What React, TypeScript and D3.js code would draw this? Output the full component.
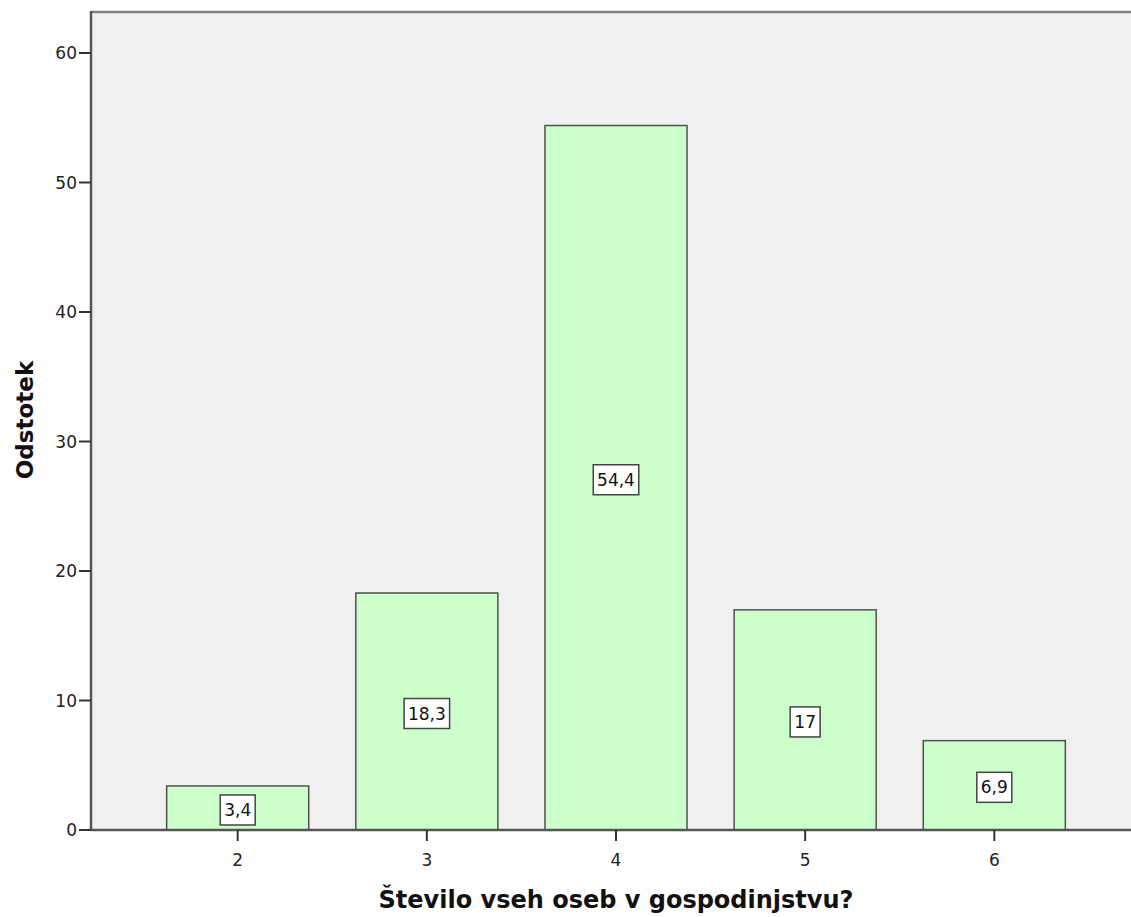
import { scaleBand, scaleLinear } from "d3";

const categories = ["2", "3", "4", "5", "6"];
const percents = [3.4, 18.3, 54.4, 17, 6.9];
const yTicks = [0, 10, 20, 30, 40, 50, 60];

const font = "'DejaVu Sans', Verdana, sans-serif";

function labelWidth(s: string) {
  let w = 0;
  for (const c of s) w += c === "," ? 5 : 10.5;
  return w + 9;
}

export default function App() {
  const left = 91;
  const right = 1141;
  const top = 12;
  const bottom = 830;

  const x = scaleBand<string>()
    .domain(categories)
    .range([left, right])
    .paddingInner(0.249)
    .paddingOuter(0.4);

  const y = scaleLinear().domain([0, 60]).range([bottom, 53]);

  return (
    <svg
      width={1131}
      height={917}
      style={{ position: "absolute", left: 0, top: 0, fontFamily: font }}
    >
      <rect x={left} y={top} width={1131 - left} height={bottom - top} fill="#f0f0f0" />

      {categories.map((c, i) => {
        const v = percents[i];
        const x0 = x(c) as number;
        const bw = x.bandwidth();
        const mid = (y(v) + bottom) / 2 + 2;
        const text = String(v).replace(".", ",");
        const lw = labelWidth(text);
        return (
          <g key={c}>
            <rect
              x={x0}
              y={y(v)}
              width={bw}
              height={bottom - y(v)}
              fill="#ccffcc"
              stroke="#505050"
              strokeWidth={1.5}
            />
            <rect
              x={x0 + bw / 2 - lw / 2}
              y={mid - 15}
              width={lw}
              height={30}
              fill="#ffffff"
              stroke="#444"
              strokeWidth={1.5}
            />
            <text
              x={x0 + bw / 2}
              y={mid + 6}
              textAnchor="middle"
              fontSize={17}
              fill="#111"
            >
              {text}
            </text>
          </g>
        );
      })}

      {/* frame */}
      <line x1={left} x2={1131} y1={top} y2={top} stroke="#808080" strokeWidth={2.5} />
      <line x1={left} x2={left} y1={top - 1} y2={bottom} stroke="#555" strokeWidth={2.5} />
      <line x1={left} x2={1131} y1={bottom} y2={bottom} stroke="#555" strokeWidth={2.5} />

      {yTicks.map((t) => (
        <g key={t}>
          <line x1={79} x2={left} y1={y(t)} y2={y(t)} stroke="#333" strokeWidth={2} />
          <text x={77} y={y(t) + 6} textAnchor="end" fontSize={17} fill="#222">
            {t}
          </text>
        </g>
      ))}

      {categories.map((c) => {
        const cx = (x(c) as number) + x.bandwidth() / 2;
        return (
          <g key={c}>
            <line x1={cx} x2={cx} y1={bottom} y2={841} stroke="#333" strokeWidth={2} />
            <text x={cx} y={866} textAnchor="middle" fontSize={17} fill="#222">
              {c}
            </text>
          </g>
        );
      })}

      <text
        x={616}
        y={908}
        textAnchor="middle"
        fontSize={24}
        fontWeight="bold"
        fill="#111"
      >
        Število vseh oseb v gospodinjstvu?
      </text>
      <text
        transform="translate(33,420) rotate(-90)"
        textAnchor="middle"
        fontSize={23}
        fontWeight="bold"
        fill="#111"
      >
        Odstotek
      </text>
    </svg>
  );
}
